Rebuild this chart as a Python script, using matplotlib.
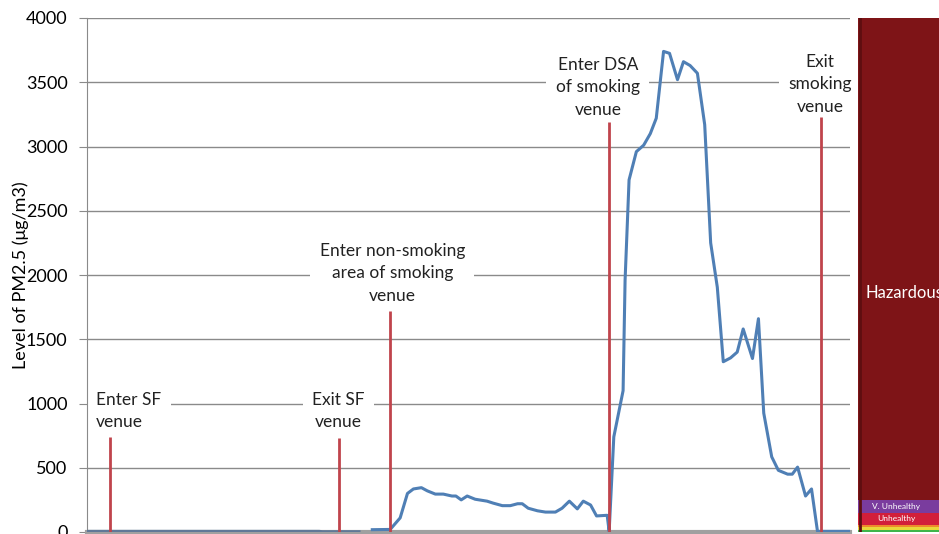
import numpy as np
import matplotlib.pyplot as plt

plt.rcParams['font.family'] = ['Lato', 'DejaVu Sans']

# PM2.5 readings (minutes from start, ug/m3); nan marks a gap in the record
minutes = [0, 35, 35.5, 41, 42, 43, 45.7, 47.2, 48.3, 49.2, 50.4, 51.3, 52.5, 53.7,
           55.0, 55.6, 56.4, 57.3, 58.5, 60.3, 61.2, 62.6, 63.8, 64.9, 65.6, 66.5,
           67.9, 69.1, 70.6, 71.6, 72.7, 73.9, 74.8, 75.9, 76.8, 78.4, 78.7, 79.4,
           80.8, 81.1, 81.7, 82.8, 83.9, 84.9, 85.8, 86.9, 87.8, 89.0, 89.9, 90.9,
           92.0, 93.1, 94.0, 95.0, 95.9, 97.0, 98.0, 98.9, 100.3, 101.2, 102.0,
           103.2, 104.2, 105.6, 106.3, 107.1, 108.3, 109.2, 110.1, 115]
pm25 = [5, 5, 2, 2, np.nan, 18, 20, 110, 300, 335, 345, 320, 295, 295,
        280, 280, 250, 280, 255, 240, 225, 205, 205, 220, 220, 185,
        165, 155, 155, 185, 240, 180, 240, 210, 125, 130, 5, 740,
        1100, 1960, 2740, 2960, 3010, 3100, 3220, 3740, 3725, 3520, 3660, 3630,
        3570, 3170, 2250, 1905, 1325, 1355, 1400, 1580, 1350, 1660, 925,
        585, 480, 450, 450, 505, 280, 335, 5, 5]

# event markers
event_t = [3.5, 38.0, 45.7, 78.7, 110.6]
event_top = [740, 730, 1720, 3190, 3230]
event_labels = ["Enter SF\nvenue", "Exit SF\nvenue",
                "Enter non-smoking\narea of smoking\nvenue",
                "Enter DSA\nof smoking\nvenue", "Exit\nsmoking\nvenue"]
label_x = [1.4, 37.9, 46.0, 77.0, 110.5]
label_y = [1090, 1090, 2250, 3700, 3720]
label_ha = ['left', 'center', 'center', 'center', 'center']

# AQI category bands
aqi_names = ["Good", "Moderate", "USG", "Unhealthy", "V. Unhealthy", "Hazardous"]
aqi_edges = [0, 12, 35.5, 55.5, 150.5, 250.5, 4000]
aqi_colors = ['#3fb54a', '#e8d83a', '#ee8a2c', '#d21f3a', '#7a3c9e', '#7e1417']

fig = plt.figure(figsize=(9.39, 5.34), dpi=100)
ax = fig.add_axes([87/939, 2/534, 763/939, 514/534])

ax.set_xlim(0, 115)
ax.set_ylim(0, 4000)
ax.set_yticks(range(0, 4001, 500))
ax.yaxis.grid(True, color='#8a8a8a', lw=1)
ax.set_axisbelow(True)
ax.set_xticks([])
ax.tick_params(axis='y', labelsize=13, length=6, color='#8a8a8a', pad=8)
for s in ['top', 'right']:
    ax.spines[s].set_visible(False)
ax.spines['left'].set_color('#8a8a8a')
ax.spines['bottom'].set_color('#a0a0a0')
ax.spines['bottom'].set_linewidth(3)
ax.set_ylabel("Level of PM2.5 (\u03bcg/m3)", fontsize=13)
ax.yaxis.set_label_coords(-0.076, 0.5)

ax.plot(minutes[:4], pm25[:4], color='#607898', lw=2.2, zorder=3)
ax.plot(minutes[3:], pm25[3:], color='#4f7fb5', lw=2.2, zorder=3)
ax.vlines(event_t, 0, event_top, color='#c0444c', lw=2, zorder=4)

for txt, x, y, ha in zip(event_labels, label_x, label_y, label_ha):
    ax.text(x, y, txt, ha=ha, va='top', fontsize=12.5, color='#222222',
            linespacing=1.5, zorder=2,
            bbox=dict(boxstyle='square,pad=0.55', fc='white', ec='none'))

# AQI colour bar on the right, running past the figure edge
band = fig.add_axes([858/939, 2/534, 150/939, 514/534])
band.set_xlim(0, 1)
band.set_ylim(0, 4000)
band.axis('off')
for i, c in enumerate(aqi_colors):
    band.bar(0.5, aqi_edges[i + 1] - aqi_edges[i], bottom=aqi_edges[i],
             width=1, color=c)
band.axvline(0.01, color='#5e0e10', lw=2)
band.text(0.05, 1860, aqi_names[5], color='white', fontsize=12, va='center')
band.text(0.09, 200, aqi_names[4], color='white', fontsize=6, va='center')
band.text(0.13, 105, aqi_names[3], color='white', fontsize=6, va='center')

fig.savefig('out.png', dpi=100)
